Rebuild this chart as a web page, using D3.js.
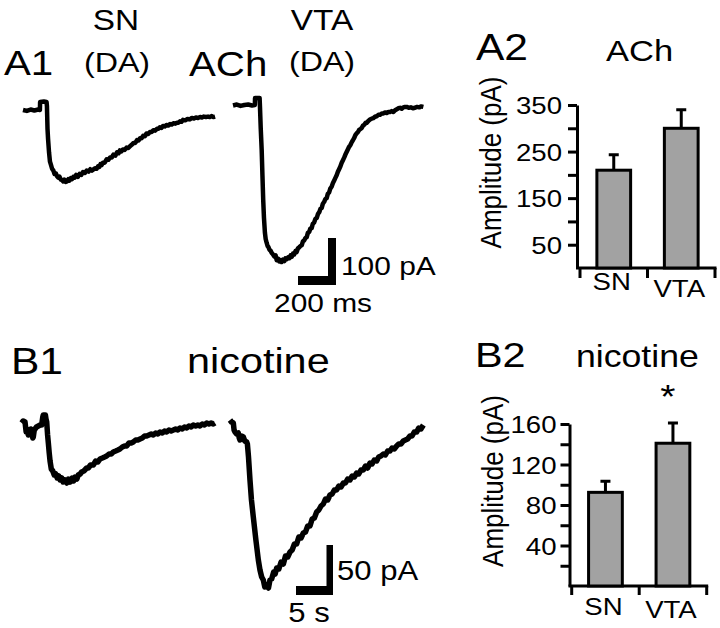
<!DOCTYPE html>
<html>
<head>
<meta charset="utf-8">
<script src="https://cdn.jsdelivr.net/npm/d3@7"></script>
<style>
  html, body { margin: 0; padding: 0; background: #fff; }
  svg { display: block; }
  text { font-family: "Liberation Sans", Arial, Helvetica, sans-serif; fill: #000; }
</style>
</head>
<body>
<svg id="fig" width="720" height="628"></svg>
<script>
// ---- example currents: [time, current] (A: ms / pA, B: s / pA) ----
const snAchTrace = [
  [0,0],[20,-2],[40,1],[60,-1],[80,1],[89,0],[90,17],[110,18],[124,17],[126,8],[129,-40],[132,-62],
  [137,-90],[142,-110],[148,-118],[153,-125],[160,-129],[166,-136],[173,-135],[179,-141],[186,-144],
  [192,-142],[199,-148],[205,-149],[212,-152],[218,-148],[225,-153],[232,-152],[239,-147],[245,-150],
  [252,-145],[258,-147],[265,-142],[272,-144],[280,-138],[289,-142],[298,-136],[307,-138],[316,-132],
  [326,-134],[335,-129],[345,-131],[354,-126],[363,-129],[372,-126],[380,-124],[388,-125],[395,-120],
  [402,-121],[408,-115],[414,-117],[421,-112],[430,-112],[440,-105],[449,-106],[458,-101],[467,-101],
  [476,-95],[486,-97],[495,-90],[503,-92],[510,-86],[518,-88],[526,-84],[535,-85],[545,-80],[554,-81],
  [563,-77],[572,-74],[582,-70],[591,-70],[600,-64],[608,-65],[616,-60],[624,-60],[632,-55],[641,-56],
  [650,-50],[659,-51],[668,-47],[677,-47],[686,-43],[695,-44],[705,-40],[713,-40],[720,-37],[729,-38],
  [737,-34],[746,-35],[755,-32],[765,-33],[774,-30],[783,-31],[792,-28],[802,-29],[811,-27],[818,-27],
  [826,-24],[834,-25],[842,-21],[854,-22],[866,-19],[878,-20],[889,-17],[900,-18],[910,-16],[921,-17],
  [932,-15],[942,-16],[952,-14],[963,-15],[974,-14],[983,-15],[992,-13],[1002,-15],[1011,-14]
];
const vtaAchTrace = [
  [0,-1],[20,1],[40,-2],[60,0],[80,1],[100,-1],[115,0],[116,15],[140,15],[142,-4],[146,-50],[151,-96],
  [155,-150],[159,-202],[163,-240],[168,-272],[172,-285],[177,-293],[182,-300],[186,-302],[192,-308],
  [198,-310],[204,-315],[211,-318],[217,-322],[224,-320],[230,-330],[237,-327],[243,-333],[250,-330],
  [256,-334],[263,-329],[270,-332],[276,-326],[283,-328],[290,-324],[296,-326],[303,-320],[309,-323],
  [316,-316],[322,-318],[329,-311],[335,-313],[342,-305],[348,-303],[355,-300],[362,-298],[368,-290],
  [375,-288],[381,-283],[388,-281],[394,-272],[401,-270],[407,-263],[414,-262],[420,-253],[427,-250],
  [434,-242],[441,-240],[447,-232],[454,-228],[460,-221],[467,-219],[473,-210],[480,-206],[486,-200],
  [493,-198],[499,-189],[506,-186],[512,-178],[519,-174],[526,-166],[532,-161],[539,-155],[546,-149],
  [552,-142],[559,-136],[565,-131],[572,-123],[578,-118],[585,-112],[591,-106],[598,-100],[605,-94],
  [611,-89],[618,-85],[625,-79],[631,-75],[638,-70],[644,-64],[651,-60],[657,-58],[664,-53],[671,-51],
  [677,-49],[684,-44],[691,-42],[698,-38],[704,-38],[712,-34],[721,-31],[730,-29],[738,-28],[747,-25],
  [756,-24],[765,-21],[774,-21],[783,-18],[792,-18],[800,-16],[809,-17],[818,-15],[826,-15],[835,-13],
  [844,-15],[853,-11],[862,-9],[870,-7],[879,-6],[888,-8],[897,-5],[905,-4],[914,-4],[925,-6],[936,-5],
  [947,-7],[958,-6],[969,-4],[980,-5],[991,-3],[1002,-4]
];
const snNicTrace = [
  [0,2],[0.2,4],[0.45,3],[0.6,-7],[0.7,-4],[0.9,-10],[1.12,-9],[1.25,-4],[1.35,-7],[1.5,-13],[1.57,-12],
  [1.7,-5],[1.8,-4],[2.0,-2],[2.25,-1],[2.5,0],[2.7,0],[2.85,8],[2.92,10],[3.2,10],[3.28,6],[3.38,3],
  [3.5,-10],[3.6,-18],[3.72,-28],[3.83,-36],[4.0,-44],[4.2,-46],[4.4,-50],[4.6,-49],[4.8,-53],[5.0,-51],
  [5.18,-55],[5.4,-53],[5.6,-57],[5.85,-55],[6.1,-58],[6.3,-54],[6.53,-57],[6.8,-53],[7.0,-56],[7.2,-52],
  [7.45,-54],[7.65,-50],[7.9,-49],[8.1,-47],[8.4,-46],[8.78,-43],[9.0,-43],[9.3,-40],[9.68,-40],[10.0,-36],
  [10.3,-37],[10.58,-34],[10.9,-33],[11.2,-32],[11.48,-31],[11.8,-29],[12.1,-29],[12.38,-27],[12.7,-26],
  [13.0,-25],[13.28,-24],[13.6,-22],[13.9,-21],[14.18,-21],[14.5,-18],[14.8,-18],[15.08,-17],[15.4,-15],
  [15.7,-15],[15.99,-14],[16.3,-13],[16.6,-11],[16.89,-11],[17.2,-10],[17.5,-9],[17.79,-10],[18.1,-8],
  [18.4,-9],[18.69,-7],[19.0,-8],[19.3,-6],[19.59,-7],[19.9,-5],[20.2,-6],[20.5,-5],[20.8,-4],[21.1,-5],
  [21.39,-3],[21.7,-4],[22.0,-2],[22.3,-3],[22.6,-1],[22.9,-2],[23.19,0],[23.5,-1],[23.8,0],[24.09,-1],
  [24.4,1],[24.7,0],[25.0,2],[25.3,1],[25.6,2],[25.9,1],[26.12,2]
];
const vtaNicTrace = [
  [0,2],[0.2,0],[0.45,-1],[0.55,-8],[0.68,-10],[0.9,-12],[1.12,-11],[1.25,-16],[1.35,-18],[1.55,-14],
  [1.8,-15],[2.0,-19],[2.25,-20],[2.35,-22],[2.5,-35],[2.7,-58],[2.9,-78],[3.15,-95],[3.5,-118],[3.83,-138],
  [4.05,-148],[4.28,-155],[4.5,-158],[4.7,-165],[4.95,-163],[5.2,-166],[5.4,-158],[5.63,-157],[5.9,-150],
  [6.1,-152],[6.31,-146],[6.6,-147],[6.9,-140],[7.21,-142],[7.5,-134],[7.8,-135],[8.11,-130],[8.4,-128],
  [8.7,-122],[9.01,-122],[9.3,-115],[9.6,-116],[9.91,-111],[10.2,-110],[10.5,-104],[10.81,-104],[11.1,-97],
  [11.4,-96],[11.71,-90],[12.0,-88],[12.3,-84],[12.61,-82],[12.9,-77],[13.2,-78],[13.51,-73],[13.8,-72],
  [14.1,-68],[14.41,-68],[14.7,-64],[15.0,-65],[15.32,-61],[15.6,-61],[15.9,-57],[16.22,-58],[16.5,-54],
  [16.8,-55],[17.12,-51],[17.4,-52],[17.7,-48],[18.02,-48],[18.3,-44],[18.6,-46],[18.92,-41],[19.2,-42],
  [19.5,-38],[19.82,-39],[20.1,-35],[20.4,-34],[20.72,-32],[21.0,-33],[21.3,-29],[21.62,-29],[21.9,-26],
  [22.2,-27],[22.52,-24],[22.8,-22],[23.1,-22],[23.42,-19],[23.7,-18],[24.0,-17],[24.32,-14],[24.6,-14],
  [24.9,-10],[25.23,-10],[25.5,-6],[25.8,-7],[26.13,-3]
];

// ---- mean amplitudes (pA) ----
const regions = ["SN", "VTA"];
const achMean = [210, 300];
const achSem = [33, 40];
const nicMean = [92.5, 141];
const nicSem = [11, 20];
const achTicks = [50, 100, 150, 200, 250, 300, 350];
const achTickLabels = [50, 150, 250, 350];
const nicTicks = [20, 40, 60, 80, 100, 120, 140, 160];
const nicTickLabels = [40, 80, 120, 160];

// the printed figure is a little wider than tall, so type is stretched sideways
const SX = 1.15;

const svg = d3.select("#fig");

function label(x, y, str, size, anchor = "start", rotate = 0) {
  return svg.append("text")
    .attr("transform", `translate(${x},${y}) scale(${SX},1)` + (rotate ? ` rotate(${rotate})` : ""))
    .attr("font-size", size)
    .attr("text-anchor", anchor)
    .text(str);
}

// ---- traces ----
const xAch = d3.scaleLinear().domain([0, 200]).range([0, 38]);   // ms
const yAch = d3.scaleLinear().domain([0, -100]).range([0, 47]);  // pA
const xNic = d3.scaleLinear().domain([0, 5]).range([0, 37]);     // s
const yNic = d3.scaleLinear().domain([0, -50]).range([0, 50]);   // pA

function drawTrace(data, xs, ys, x0, y0, width) {
  const line = d3.line().x((d) => xs(d[0])).y((d) => ys(d[1]));
  svg.append("path")
    .attr("transform", `translate(${x0},${y0})`)
    .attr("d", line(data))
    .attr("fill", "none")
    .attr("stroke", "#000")
    .attr("stroke-width", width)
    .attr("stroke-linejoin", "round");
}

drawTrace(snAchTrace, xAch, yAch, 23, 110, 4.5);
drawTrace(vtaAchTrace, xAch, yAch, 233, 105, 4.5);
drawTrace(snNicTrace, xNic, yNic, 21.7, 425, 5.5);
drawTrace(vtaNicTrace, xNic, yNic, 230, 422, 5.5);

function scaleBar(cornerX, cornerY, horiz, vert, thickV, thickH) {
  svg.append("rect")
    .attr("x", cornerX - thickV).attr("y", cornerY - vert)
    .attr("width", thickV).attr("height", vert);
  svg.append("rect")
    .attr("x", cornerX - horiz).attr("y", cornerY - thickH)
    .attr("width", horiz).attr("height", thickH);
}

scaleBar(336, 285, xAch(200), yAch(-100), 8, 9);
label(341, 275, "100 pA", 26);
label(323, 312, "200 ms", 26, "middle");

scaleBar(333, 595, xNic(5), yNic(-50), 6.5, 9);
label(337, 580, "50 pA", 27);
label(309, 622, "5 s", 27, "middle");

// ---- panel labels ----
label(4, 75, "A1", 35);
label(116, 30, "SN", 29, "middle");
label(117, 72, "(DA)", 28, "middle");
label(189, 76, "ACh", 35);
label(322, 30, "VTA", 29, "middle");
label(322, 71, "(DA)", 28, "middle");
label(476, 60, "A2", 37);
label(606, 61, "ACh", 30);

label(11, 374, "B1", 37);
label(187, 373, "nicotine", 36);
label(475, 367, "B2", 36);
label(576, 367, "nicotine", 31);

// ---- bar charts ----
function barPanel(o) {
  const y = d3.scaleLinear().domain([0, o.max]).range([o.bottom, o.top]);
  const x = d3.scaleBand().domain(regions).range([o.x0, o.x1]);
  const bw = x.bandwidth();
  const g = svg.append("g");

  const yAxis = g.append("g")
    .attr("transform", `translate(${o.axisX},0)`)
    .call(
      d3.axisLeft(y)
        .tickValues(o.ticks)
        .tickSize(9)
        .tickSizeOuter(0)
        .tickPadding(o.pad)
        .tickFormat((d) => (o.labels.includes(d) ? d : "")),
    );
  yAxis.attr("font-family", null).attr("font-size", 24);
  yAxis.selectAll("path, line").attr("stroke", "#000").attr("stroke-width", 3);
  yAxis.selectAll("text")
    .attr("x", -(9 + o.pad) / SX)
    .attr("transform", `scale(${SX},1)`)
    .attr("dy", "0.36em");

  // x axis with ticks at band edges
  g.append("line")
    .attr("x1", o.axisX - 1).attr("x2", o.x1 + 1.5)
    .attr("y1", o.bottom).attr("y2", o.bottom)
    .attr("stroke", "#000").attr("stroke-width", 3);
  g.selectAll(".xtick")
    .data(regions.map((d) => x(d)).concat(o.x1))
    .join("line")
    .attr("x1", (d) => d).attr("x2", (d) => d)
    .attr("y1", o.bottom).attr("y2", o.bottom + o.tickDown)
    .attr("stroke", "#000").attr("stroke-width", 3);

  g.selectAll(".bar")
    .data(o.mean)
    .join("rect")
    .attr("x", (d, i) => x(regions[i]) + bw * 0.25)
    .attr("width", bw * 0.5)
    .attr("y", (d) => y(d))
    .attr("height", (d) => y(0) - y(d))
    .attr("fill", "#a2a2a2")
    .attr("stroke", "#000")
    .attr("stroke-width", 3);

  g.selectAll(".err")
    .data(o.mean)
    .join("path")
    .attr("d", (d, i) => {
      const cx = x(regions[i]) + bw / 2;
      const top = y(d + o.sem[i]);
      return `M${cx},${y(d) - 1}V${top}M${cx - 5},${top}H${cx + 5}`;
    })
    .attr("fill", "none")
    .attr("stroke", "#000")
    .attr("stroke-width", 3);

  regions.forEach((r, i) => {
    label(x(r) + bw / 2 - 2, o.bottom + o.labelY + (i === 1 ? o.shift : 0), r, 24, "middle");
  });

  // axis title sits a little above the axis centre in the original
  label(o.titleX, (o.top + o.bottom) / 2 - 24, "Amplitude (pA)", 26, "middle", -90);

  return { x, y, bw };
}

barPanel({
  max: 350, top: 105, bottom: 268, axisX: 577, x0: 580, x1: 715,
  ticks: achTicks, labels: achTickLabels, pad: 6, tickDown: 10,
  mean: achMean, sem: achSem, labelY: 22, shift: 7, titleX: 501,
});

const nic = barPanel({
  max: 160, top: 424, bottom: 586, axisX: 569.5, x0: 571.7, x1: 706.7,
  ticks: nicTicks, labels: nicTickLabels, pad: 4, tickDown: 9,
  mean: nicMean, sem: nicSem, labelY: 29, shift: 3, titleX: 503,
});

// significance marker
label(nic.x("VTA") + nic.bw / 2 - 5, 408, "*", 34, "middle");
</script>
</body>
</html>
